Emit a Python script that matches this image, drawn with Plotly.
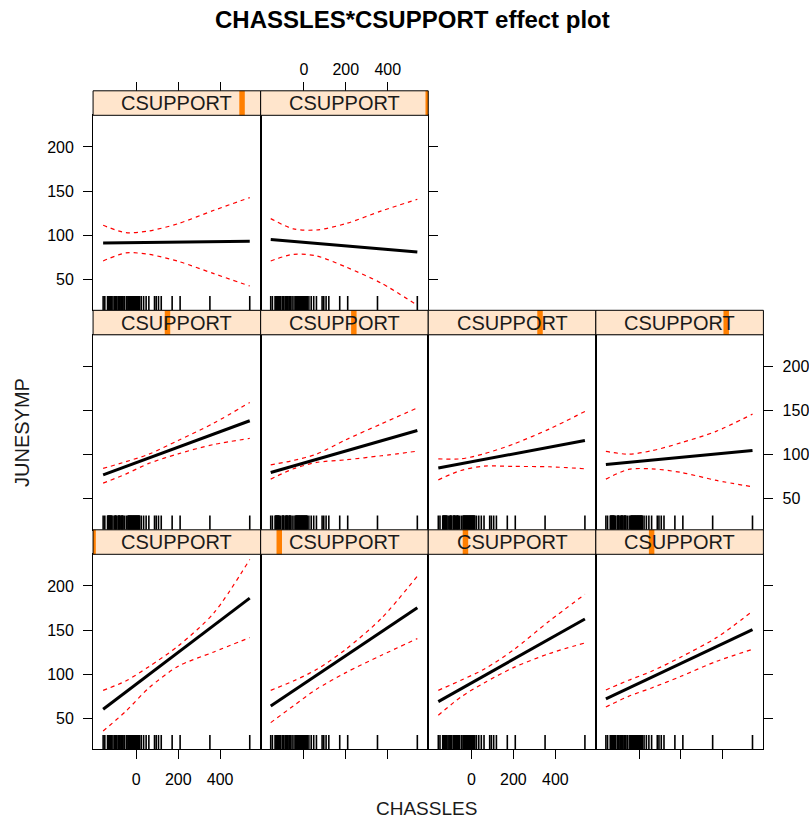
import plotly.graph_objects as go

# ---------------- data ----------------
chassles_grid = [-158, -50, 60, 200, 370, 541]

# fitted JUNESYMP per CSUPPORT level (level 0 = lowest CSUPPORT)
fit = [
    [60.2, 79.6, 99.5, 124.6, 155.4, 186.2],
    [64.0, 81.1, 98.7, 120.9, 148.0, 175.2],
    [68.9, 83.3, 98.2, 116.9, 139.8, 162.6],
    [71.9, 84.0, 96.5, 112.1, 131.3, 150.5],
    [77.2, 86.7, 96.4, 108.6, 123.5, 138.5],
    [79.8, 87.1, 94.7, 104.2, 115.8, 127.4],
    [84.8, 89.6, 94.6, 100.8, 108.5, 116.1],
    [88.9, 91.3, 93.8, 97.0, 100.8, 104.7],
    [91.2, 91.5, 92.0, 92.5, 92.8, 93.1],
    [95.0, 92.8, 90.6, 87.8, 84.4, 81.0],
]
upper = [
    [81.7, 92.3, 108.5, 132.0, 169.4, 230.0],
    [81.7, 92.3, 105.2, 128.2, 163.4, 211.0],
    [81.7, 93.1, 105.6, 127.5, 160.0, 190.6],
    [82.1, 93.1, 103.3, 119.5, 141.5, 171.3],
    [84.4, 92.0, 100.6, 116.1, 135.8, 159.2],
    [88.5, 93.5, 100.6, 116.9, 135.0, 153.0],
    [95.3, 95.3, 101.0, 112.0, 129.0, 149.0],
    [103.7, 100.6, 104.4, 113.5, 126.7, 146.0],
    [111.2, 102.9, 104.8, 113.1, 128.2, 142.6],
    [118.8, 107.1, 105.9, 113.1, 127.5, 140.7],
]
lower = [
    [35.6, 57.9, 84.4, 109.0, 125.2, 141.5],
    [45.1, 64.0, 82.9, 101.8, 121.4, 140.3],
    [53.4, 74.2, 90.1, 107.4, 123.3, 135.4],
    [62.8, 74.9, 84.4, 97.6, 114.6, 128.2],
    [67.8, 78.0, 90.1, 101.0, 111.6, 118.4],
    [72.3, 84.0, 91.2, 94.2, 98.8, 104.0],
    [71.5, 82.1, 87.0, 86.7, 86.3, 84.0],
    [72.3, 83.3, 84.0, 79.9, 70.8, 63.6],
    [70.8, 79.9, 78.3, 70.4, 56.4, 42.4],
    [70.8, 78.3, 76.5, 64.0, 45.5, 20.5],
]
# position of the CSUPPORT level indicator within the strip (0..1)
level_pos = [0.0, 0.111, 0.222, 0.333, 0.444, 0.556, 0.667, 0.778, 0.889, 1.0]

rug = [-158, -150, -137, -135, -133, -131, -129, -127, -125, -123, -121, -119,
       -117, -111, -103, -101, -99, -97, -95, -87, -85, -83, -81, -79, -77,
       -71, -69, -67, -65, -63, -56, -47, -40, -38, -36, -34, -32, -30, -28,
       -26, -24, -22, -20, -18, -16, -14, -12, -10, -8, -6, -4, -2, 0, 2, 4,
       6, 8, 10, 12, 14, 16, 24, 35, 47, 60, 87, 95, 106, 119, 171, 209,
       351, 541]

x_ticks = [0, 200, 400]
y_ticks = [50, 100, 150, 200]
x_range = [-206, 593]
y_range = [14.85, 235.9]

title_text = "CHASSLES*CSUPPORT effect plot"
x_title = "CHASSLES"
y_title = "JUNESYMP"
strip_label = "CSUPPORT"

# ---------------- geometry ----------------
W, H = 809, 820
col_left = [93.3, 261.3, 429.3, 597.3]
col_w = 168.0
row_top = {1: 115.3, 2: 334.8, 3: 554.3}
panel_h = 195.0
strip_h = 24.5
FONT = "Liberation Sans, Arial, sans-serif"
ink = "#000000"


def sfx(k):
    return "" if k == 1 else str(k)


def rc(level):
    if level < 4:
        return 3, level
    if level < 8:
        return 2, level - 4
    return 1, level - 8


fig = go.Figure()
layout = dict(width=W, height=H, margin=dict(l=0, r=0, t=0, b=0),
              paper_bgcolor="white", plot_bgcolor="white", showlegend=False,
              font=dict(family=FONT, size=16, color=ink))
shapes = []
annotations = []

tick_common = dict(ticklen=9, tickwidth=1, tickcolor=ink,
                   tickfont=dict(family=FONT, size=16, color=ink))

for lv in range(10):
    r, c = rc(lv)
    k = lv + 1
    s = sfx(k)
    xd = [col_left[c] / W, (col_left[c] + col_w) / W]
    top = row_top[r]
    yd = [1 - (top + panel_h) / H, 1 - top / H]
    xa = dict(domain=xd, anchor=f"y{s}", range=x_range, showgrid=False,
              zeroline=False, showline=True, mirror=True, linecolor=ink,
              linewidth=1, fixedrange=True)
    ya = dict(domain=yd, anchor=f"x{s}", range=y_range, showgrid=False,
              zeroline=False, showline=True, mirror=True, linecolor=ink,
              linewidth=1, fixedrange=True)
    if r == 3:
        xa.update(ticks="outside", tickvals=x_ticks, showticklabels=(c in (0, 2)),
                  ticklabelstandoff=6, **tick_common)
    else:
        xa.update(ticks="", showticklabels=False)
    if c == 0:
        ya.update(ticks="outside", tickvals=y_ticks, showticklabels=(r != 2),
                  ticklabelstandoff=6, **tick_common)
    else:
        ya.update(ticks="", showticklabels=False)
    layout[f"xaxis{s}"] = xa
    layout[f"yaxis{s}"] = ya

    xs, ys = f"x{s}", f"y{s}"
    # rug
    px_per_unit = panel_h / (y_range[1] - y_range[0])
    rug_y = y_range[0] + 6 / px_per_unit
    fig.add_trace(go.Scatter(x=rug, y=[rug_y] * len(rug), mode="markers",
                             marker=dict(symbol="line-ns", size=12,
                                         line=dict(width=1.6, color=ink)),
                             xaxis=xs, yaxis=ys, hoverinfo="skip"))
    # confidence band
    for band in (upper[lv], lower[lv]):
        fig.add_trace(go.Scatter(x=chassles_grid, y=band, mode="lines",
                                 line=dict(color="#FF0000", width=1.2, dash="4px,4px",
                                           shape="spline", smoothing=0.8),
                                 xaxis=xs, yaxis=ys, hoverinfo="skip"))
    # fitted line
    fig.add_trace(go.Scatter(x=chassles_grid, y=fit[lv], mode="lines",
                             line=dict(color=ink, width=3),
                             xaxis=xs, yaxis=ys, hoverinfo="skip"))

    # strip
    sy1 = 1 + strip_h / panel_h
    shapes.append(dict(type="rect", xref=f"x{s} domain", yref=f"y{s} domain",
                       x0=0, x1=1, y0=1, y1=sy1, fillcolor="#FFE5CC",
                       line=dict(width=0), layer="above"))
    bw = 5.5 / col_w
    bx0 = max(0.0, level_pos[lv] - bw / 2)
    bx1 = min(1.0, level_pos[lv] + bw / 2)
    shapes.append(dict(type="rect", xref=f"x{s} domain", yref=f"y{s} domain",
                       x0=bx0, x1=bx1, y0=1, y1=sy1, fillcolor="#FF7F00",
                       line=dict(width=0), layer="above"))
    shapes.append(dict(type="rect", xref=f"x{s} domain", yref=f"y{s} domain",
                       x0=0, x1=1, y0=1, y1=sy1, fillcolor="rgba(0,0,0,0)",
                       line=dict(width=1, color=ink), layer="above"))
    annotations.append(dict(text=strip_label, xref=f"x{s} domain", yref=f"y{s} domain",
                            x=0.5, y=1 + strip_h / 2 / panel_h, xanchor="center",
                            yanchor="middle", showarrow=False,
                            font=dict(family=FONT, size=20, color="#1a1a1a")))

# top axes above the top-row strips (levels 8, 9)
for j, lv in enumerate((8, 9)):
    r, c = rc(lv)
    k = 11 + j
    base = sfx(lv + 1)
    layout[f"xaxis{k}"] = dict(domain=layout[f"xaxis{base}"]["domain"],
                               overlaying=f"x{base}", side="top", anchor="free",
                               position=1 - (row_top[r] - strip_h) / H,
                               range=x_range, showgrid=False, zeroline=False,
                               showline=False, ticks="outside", tickvals=x_ticks,
                               showticklabels=(j == 1), ticklabelstandoff=0,
                               fixedrange=True, **tick_common)
    fig.add_trace(go.Scatter(x=[None], y=[None], xaxis=f"x{k}", yaxis=f"y{base}",
                             mode="markers", hoverinfo="skip"))

# right axes (levels 9, 7, 3)
for j, lv in enumerate((9, 7, 3)):
    r, c = rc(lv)
    k = 11 + j
    base = sfx(lv + 1)
    layout[f"yaxis{k}"] = dict(domain=layout[f"yaxis{base}"]["domain"],
                               overlaying=f"y{base}", side="right", anchor=f"x{base}",
                               range=y_range, showgrid=False, zeroline=False,
                               showline=False, ticks="outside", tickvals=y_ticks,
                               showticklabels=(lv == 7), ticklabelstandoff=6,
                               fixedrange=True, **tick_common)
    fig.add_trace(go.Scatter(x=[None], y=[None], xaxis=f"x{base}", yaxis=f"y{k}",
                             mode="markers", hoverinfo="skip"))

annotations.append(dict(text=f"<b>{title_text}</b>", xref="paper", yref="paper",
                        x=414 / W, y=1 - 19 / H, xanchor="center", yanchor="middle",
                        showarrow=False, font=dict(family=FONT, size=24, color=ink)))
annotations.append(dict(text=x_title, xref="paper", yref="paper",
                        x=428 / W, y=1 - 808 / H, xanchor="center", yanchor="middle",
                        showarrow=False, font=dict(family=FONT, size=19, color="#1a1a1a")))
annotations.append(dict(text=y_title, xref="paper", yref="paper",
                        x=22 / W, y=1 - 432 / H, xanchor="center", yanchor="middle",
                        textangle=-90, showarrow=False,
                        font=dict(family=FONT, size=20, color="#1a1a1a")))

layout["shapes"] = shapes
layout["annotations"] = annotations
fig.update_layout(**layout)
fig.write_html("out.html")
